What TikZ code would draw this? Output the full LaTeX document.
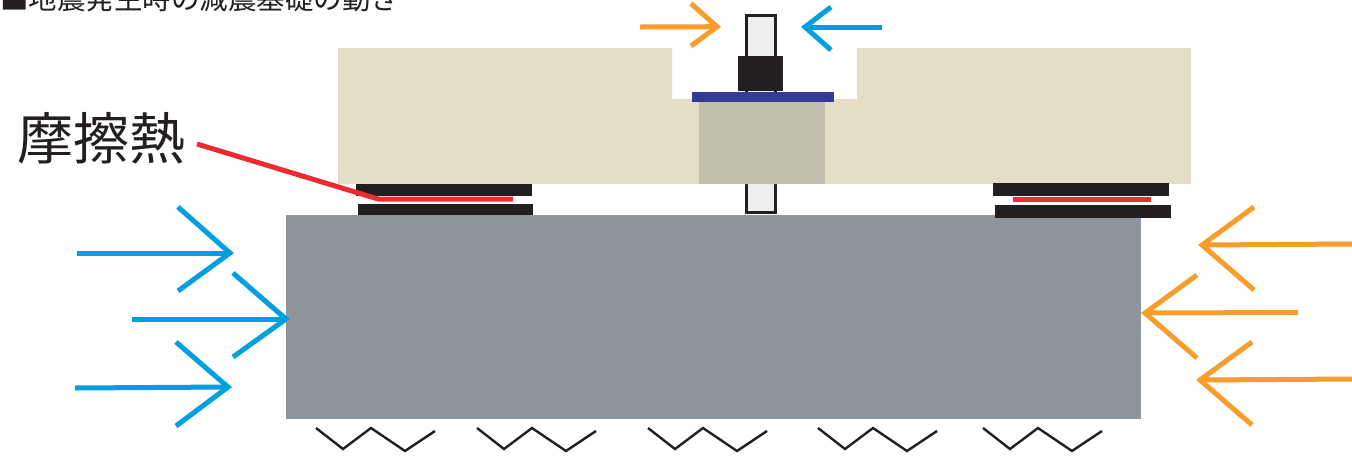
\documentclass[tikz,border=0pt]{standalone}
\usepackage{fontspec}
\usepackage{xcolor}
\usetikzlibrary{positioning}
\newfontfamily\cjk{Noto Sans CJK JP}
\definecolor{slabbeige}{HTML}{E3DEC5}
\definecolor{blockbeige}{HTML}{C2BFAD}
\definecolor{platenavy}{HTML}{343A96}
\definecolor{padblack}{HTML}{231F20}
\definecolor{heatred}{HTML}{EE2B2F}
\definecolor{pushorange}{HTML}{F79D2B}
\definecolor{pushblue}{HTML}{009FDF}
\definecolor{basegray}{HTML}{8E959C}
\definecolor{rodfill}{HTML}{EDEEF0}
\newcommand{\pusharrow}[5]{\draw[push, #1] #2 -- #4; \draw[push, #1] #3 -- #4 -- #5;}

\begin{document}
\begin{tikzpicture}[
  x=1pt, y=-1pt,
  txt/.style={inner sep=0pt, text=padblack},
  pad/.style={fill=padblack},
  heatline/.style={draw=heatred, line width=5pt},
  push/.style={line width=5pt, line join=miter},
  ground/.style={draw=padblack, line width=2.4pt}
]
\useasboundingbox (0,0) rectangle (1352,456);

\node[txt, anchor=base west, font=\cjk\fontsize{28.5pt}{28.5pt}\selectfont] (title) at (0,9) {■地震発生時の減震基礎の動き};
\node[txt, anchor=base west, font=\cjk\fontsize{56pt}{56pt}\selectfont] (heat) at (17,159.5) {摩擦熱};

\draw[draw=padblack, fill=rodfill, line width=3pt] (746.5,15.5) rectangle (775.5,212);
\fill[slabbeige] (338,48) -- (672,48) -- (672,99) -- (857,99) -- (857,48) -- (1191,48) -- (1191,184) -- (338,184) -- cycle;
\fill[blockbeige] (699,101) rectangle (825,184);
\fill[pad] (738,56) rectangle (783,91);
\fill[platenavy] (692,92) rectangle (834,102);

\fill[basegray] (286,215) rectangle (1141,419);
\fill[pad] (356,184) rectangle (532,196);
\fill[pad] (358,204) rectangle (533,215);
\fill[pad] (993,183) rectangle (1169,196);
\fill[pad] (995,205) rectangle (1171,218);

\coordinate (leadstart) at (197,144);
\coordinate (leadbend) at (378,199);
\coordinate (leadend) at (513,199);
\coordinate (rightstart) at (1013,199.5);
\coordinate (rightend) at (1151,199.5);
\draw[heatline, line join=miter] (leadstart) -- (leadbend) -- (leadend);
\draw[heatline] (rightstart) -- (rightend);

\pusharrow{pushblue}{(77,253)}{(178,207)}{(230,253)}{(178,291)}
\pusharrow{pushblue}{(132,319)}{(233,273)}{(286,319)}{(233,357)}
\pusharrow{pushblue}{(75,388)}{(176,342)}{(228,387)}{(176,426)}
\pusharrow{pushorange}{(1352,244)}{(1254,207)}{(1202,245)}{(1254,290)}
\pusharrow{pushorange}{(1298,312.5)}{(1197,275)}{(1145,313)}{(1197,358)}
\pusharrow{pushorange}{(1352,379)}{(1252,342)}{(1200,380)}{(1252,425)}
\pusharrow{pushorange}{(640,27)}{(691,3.5)}{(717,26.7)}{(691,46)}
\pusharrow{pushblue}{(882,27)}{(831,7)}{(805,27)}{(831,50)}

\foreach \dx in {0,161,332,502,667}
  \draw[ground, xshift=\dx pt] (316,428) -- (343,449) -- (371,428) -- (405,451) -- (435,431);
\end{tikzpicture}
\end{document}
